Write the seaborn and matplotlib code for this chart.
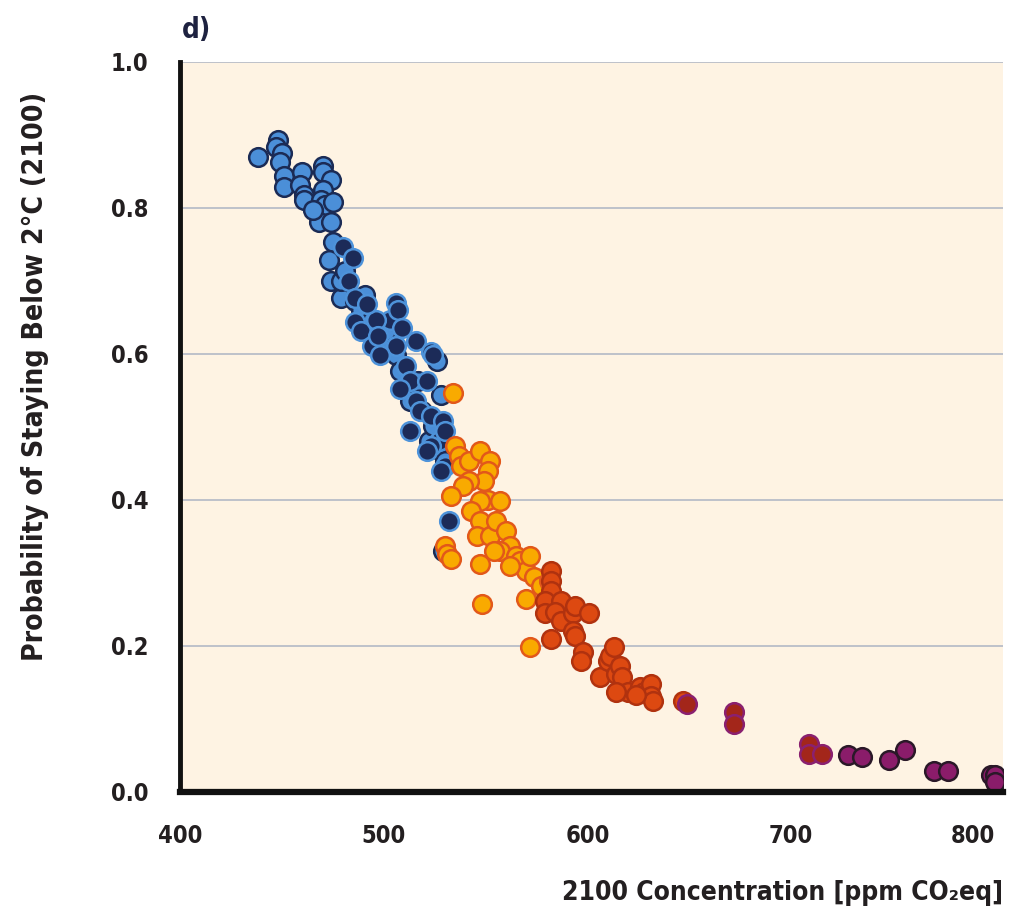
import numpy as np
import pandas as pd
import seaborn as sns
import matplotlib.pyplot as plt

# --- data: 2100 concentration (ppm CO2eq) vs probability of staying below 2°C ---
light_blue_x = [438, 448, 447, 450, 449, 451, 451, 460, 459, 461, 461, 470, 470, 474, 470,
                469, 471, 468, 474, 475, 465, 475, 473, 474, 479, 479, 481, 486, 489, 491,
                494, 498, 501, 504, 506, 508, 511, 513, 517, 519, 522, 524, 526, 526, 529,
                530, 528]
light_blue_y = [0.870, 0.893, 0.883, 0.875, 0.863, 0.844, 0.828, 0.849, 0.831, 0.818, 0.811,
                0.857, 0.849, 0.838, 0.824, 0.811, 0.804, 0.780, 0.780, 0.808, 0.797, 0.753,
                0.728, 0.700, 0.677, 0.700, 0.714, 0.673, 0.660, 0.680, 0.646, 0.611, 0.632,
                0.646, 0.598, 0.577, 0.550, 0.536, 0.563, 0.522, 0.481, 0.501, 0.590, 0.470,
                0.330, 0.453, 0.543]

navy_x = [480, 485, 483, 486, 486, 489, 494, 506, 503, 496, 497, 506, 498, 511, 516, 523,
          524, 513, 521, 508, 516, 518, 523, 529, 527, 530, 523, 530, 532, 521, 513, 528,
          492, 507, 509]
navy_y = [0.746, 0.732, 0.700, 0.677, 0.643, 0.632, 0.611, 0.670, 0.646, 0.646, 0.625,
          0.611, 0.598, 0.584, 0.618, 0.602, 0.598, 0.563, 0.563, 0.552, 0.536, 0.522,
          0.515, 0.508, 0.481, 0.495, 0.474, 0.447, 0.371, 0.467, 0.495, 0.440,
          0.668, 0.660, 0.635]

orange_x = [534, 535, 537, 538, 542, 547, 552, 551, 549, 542, 539, 551, 557, 547, 543, 533,
            530, 531, 533, 547, 546, 552, 555, 560, 562, 557, 565, 567, 570, 572, 574, 577,
            570, 581, 547, 548, 572, 562, 554]
orange_y = [0.547, 0.474, 0.460, 0.447, 0.453, 0.467, 0.453, 0.440, 0.426, 0.426, 0.419,
            0.400, 0.398, 0.398, 0.385, 0.405, 0.337, 0.326, 0.319, 0.371, 0.350, 0.350,
            0.371, 0.357, 0.337, 0.330, 0.323, 0.316, 0.302, 0.323, 0.295, 0.282, 0.264,
            0.289, 0.312, 0.257, 0.199, 0.309, 0.330]

red_x = [582, 582, 582, 579, 579, 587, 584, 587, 593, 594, 601, 593, 594, 598, 597, 582,
         606, 610, 611, 613, 614, 616, 617, 620, 614, 626, 628, 631, 631, 632, 624, 647]
red_y = [0.302, 0.289, 0.275, 0.261, 0.245, 0.261, 0.247, 0.234, 0.245, 0.254, 0.245,
         0.220, 0.213, 0.192, 0.179, 0.209, 0.158, 0.179, 0.186, 0.199, 0.162, 0.172,
         0.158, 0.137, 0.137, 0.144, 0.137, 0.148, 0.131, 0.124, 0.133, 0.124]

dark_red_x = [649, 672, 672, 709, 709, 715]
dark_red_y = [0.120, 0.110, 0.093, 0.066, 0.052, 0.052]

purple_x = [728, 735, 748, 756, 770, 777, 798, 800, 800]
purple_y = [0.051, 0.048, 0.044, 0.058, 0.029, 0.029, 0.023, 0.023, 0.014]

x_ticks = [400, 500, 600, 700, 800]
y_ticks = [0.0, 0.2, 0.4, 0.6, 0.8, 1.0]

groups = [
    ("light_blue", light_blue_x, light_blue_y, "#4B8FD8", "#1B2B55"),
    ("navy", navy_x, navy_y, "#1C2B58", "#4E93DA"),
    ("orange", orange_x, orange_y, "#F9AA00", "#E2581A"),
    ("red", red_x, red_y, "#DD4911", "#B0320F"),
    ("dark_red", dark_red_x, dark_red_y, "#A3261A", "#8A2070"),
    ("purple", purple_x, purple_y, "#8A1C6A", "#2A1828"),
]

sns.set_theme(style="white")
plt.rcParams["font.family"] = ["DejaVu Sans"]
plt.rcParams["font.stretch"] = "condensed"

text_color = "#231F20"
font_kw = dict(family="DejaVu Sans", stretch="condensed", fontweight="bold", color=text_color)

fig = plt.figure(figsize=(10.12, 9.23), dpi=100)
ax = fig.add_axes([0.178, 0.142, 0.813, 0.791])
ax.set_facecolor("#FEF3E3")

for name, xs, ys, face, edge in groups:
    df = pd.DataFrame({"conc": xs, "prob": ys})
    sns.scatterplot(data=df, x="conc", y="prob", ax=ax, s=180, color=face,
                    edgecolor=edge, linewidth=1.8, zorder=3, legend=False)

ax.set_xlim(400, 804)
ax.set_ylim(0.0, 1.0)
ax.set_xticks(x_ticks)
ax.set_yticks(y_ticks)
ax.set_xticklabels([str(v) for v in x_ticks], fontsize=17, **font_kw)
ax.set_yticklabels([f"{v:.1f}" for v in y_ticks], fontsize=17, **font_kw)
ax.get_xticklabels()[-1].set_horizontalalignment("right")
ax.tick_params(axis="x", direction="out", length=9, width=3, color="#111111", pad=14)
ax.tick_params(axis="y", length=0, pad=23)

ax.grid(axis="y", color="#B9BDC8", linewidth=1.3, zorder=0)
ax.grid(axis="x", visible=False)
ax.set_axisbelow(True)

for side in ["top", "right"]:
    ax.spines[side].set_visible(False)
ax.spines["left"].set_color("#111111")
ax.spines["left"].set_linewidth(3.5)
ax.spines["bottom"].set_color("#111111")
ax.spines["bottom"].set_linewidth(4.5)
ax.spines["left"].set_zorder(5)
ax.spines["bottom"].set_zorder(5)

ax.set_xlabel("")
ax.set_ylabel("")

fig.text(0.035, 0.592, "Probability of Staying Below 2°C (2100)", rotation=90,
         ha="center", va="center", fontsize=20.3, **font_kw)
fig.text(0.991, 0.032, "2100 Concentration [ppm CO₂eq]", ha="right", va="center",
         fontsize=19, **font_kw)
fig.text(0.18, 0.968, "d)", ha="left", va="center", fontsize=20,
         family="DejaVu Sans", stretch="condensed", fontweight="bold", color="#1E2240")

fig.savefig("out.png", dpi=100, facecolor="white")
